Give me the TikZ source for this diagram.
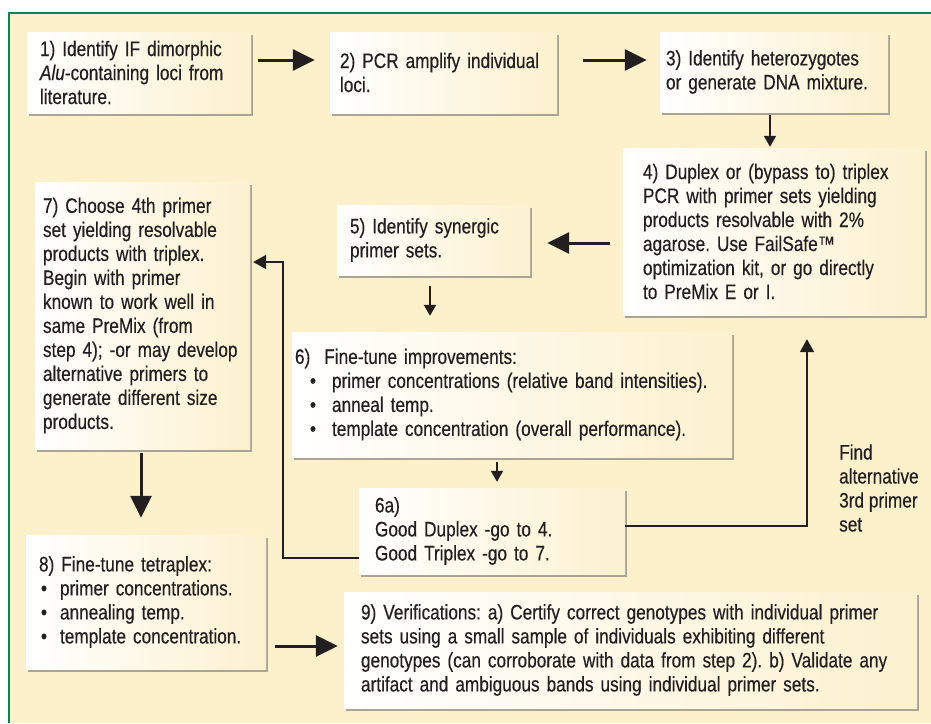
\documentclass[tikz,border=0pt]{standalone}
\usepackage{fontspec}
\setmainfont{Liberation Sans}[FakeStretch=0.82,FakeBold=0.4]
\usepackage{tikz}
\usepackage{xcolor}
\usetikzlibrary{arrows.meta,shadows}
\definecolor{bgcream}{HTML}{FCF1CB}
\definecolor{boxcream}{HTML}{FCF1CF}
\definecolor{framegreen}{HTML}{00875A}
\definecolor{ink}{HTML}{231F20}
\newcommand{\boxfont}{\fontsize{21}{24}\selectfont\frenchspacing}
\newcommand{\bul}[1]{\makebox[#1][l]{\textbullet}}

\begin{document}
\begin{tikzpicture}[x=1pt,y=-1pt,
  stepbox/.style={left color=white,right color=boxcream,
    drop shadow={shadow xshift=2pt,shadow yshift=-2.5pt,fill=black!60,opacity=.55},
    align=left,inner xsep=15pt,inner ysep=0pt,font=\boxfont,text=ink},
  bigarrow/.style={draw=ink,line width=3pt,-{Triangle[length=22pt,width=21pt]}},
  smallarrow/.style={draw=ink,line width=2pt,-{Triangle[length=11pt,width=12pt]}},
  linkarrow/.style={draw=ink,line width=2pt,-{Triangle[length=13pt,width=14pt]}}]
\useasboundingbox (0,0) rectangle (931,723);
\fill[white] (0,0) rectangle (931,723);
\fill[bgcream] (9,13) rectangle (931,723);
\draw[framegreen,line width=2.5pt] (931,13) -- (9,13) -- (9,723);

\node[stepbox,inner xsep=13pt,text width=198pt,minimum height=81pt] (b1) at (139,72.5)
  {1) Identify IF dimorphic\\\textit{Alu}-containing loci from\\literature.};
\node[stepbox,inner xsep=10pt,text width=207pt,minimum height=81pt] (b2) at (443.5,72.5)
  {2) PCR amplify individual\\loci.};
\node[stepbox,inner xsep=6pt,text width=216pt,minimum height=80pt] (b3) at (774,72)
  {3) Identify heterozygotes\\or generate DNA mixture.};
\node[stepbox,inner xsep=20pt,text width=262pt,minimum height=167pt] (b4) at (774,231.5)
  {4) Duplex or (bypass to) triplex\\PCR with primer sets yielding\\products resolvable with 2\%\\agarose. Use FailSafe™\\optimization kit, or go directly\\to PreMix E or I.};
\node[stepbox,inner xsep=13pt,text width=167pt,minimum height=70pt] (b5) at (433.5,240)
  {5) Identify synergic\\primer sets.};
\node[stepbox,inner xsep=8pt,text width=199pt,minimum height=267pt] (b7) at (142.5,315.5)
  {7) Choose 4th primer\\set yielding resolvable\\products with triplex.\\Begin with primer\\known to work well in\\same PreMix (from\\step 4); -or may develop\\alternative primers to\\generate different size\\products.};
\node[stepbox,inner xsep=3pt,text width=434pt,minimum height=125pt] (b6) at (512,394.5)
  {6)\ \ Fine-tune improvements:\\
   \hspace*{15pt}\bul{22pt}primer concentrations (relative band intensities).\\
   \hspace*{15pt}\bul{22pt}anneal temp.\\
   \hspace*{15pt}\bul{22pt}template concentration (overall performance).};
\node[stepbox,inner xsep=16pt,text width=234pt,minimum height=86pt] (b6a) at (492,531)
  {6a)\\Good Duplex -go to 4.\\Good Triplex -go to 7.};
\node[stepbox,inner xsep=13pt,text width=214pt,minimum height=134pt] (b8) at (146,602)
  {8) Fine-tune tetraplex:\\
   \hspace*{2pt}\bul{19pt}primer concentrations.\\
   \hspace*{2pt}\bul{19pt}annealing temp.\\
   \hspace*{2pt}\bul{19pt}template concentration.};
\node[stepbox,inner xsep=17pt,text width=539pt,minimum height=116pt] (b9) at (630.5,650)
  {9) Verifications: a) Certify correct genotypes with individual primer\\sets using a small sample of individuals exhibiting different\\genotypes (can corroborate with data from step 2). b) Validate any\\artifact and ambiguous bands using individual primer sets.};
\node[anchor=west,align=left,inner sep=0pt,font=\boxfont,text=ink] (findlbl) at (839,488)
  {Find\\alternative\\3rd primer\\set};

\draw[bigarrow,shorten <=7pt,shorten >=15pt] ([yshift=12.5pt]b1.east) -- ([yshift=12.5pt]b2.west);
\draw[bigarrow,shorten <=26pt,shorten >=13pt] ([yshift=12.5pt]b2.east) -- ([yshift=12pt]b3.west);
\draw[smallarrow,shorten <=3pt,shorten >=1pt] ([xshift=-4pt]b3.south) -- ([xshift=-4pt]b3.south |- b4.north);
\draw[bigarrow,shorten <=13pt,shorten >=17pt] ([yshift=-11.5pt]b4.west) -- ([yshift=-11.5pt]b4.west -| b5.east);
\draw[smallarrow,shorten <=11pt,shorten >=16pt] ([xshift=-3.5pt]b5.south) -- ([xshift=-3.5pt]b5.south |- b6.north);
\draw[smallarrow,shorten <=5pt,shorten >=6pt] ([xshift=5pt]b6a.north |- b6.south) -- ([xshift=5pt]b6a.north);
\draw[linkarrow,shorten >=3pt] ([yshift=-27pt]b6a.west) -| ([xshift=33pt,yshift=53.5pt]b7.east) -- ([yshift=53.5pt]b7.east);
\draw[linkarrow,shorten >=24pt] ([yshift=5pt]b6a.east) -| ([xshift=33pt]b4.south);
\draw[bigarrow,shorten <=4pt,shorten >=17pt] ([xshift=-1.5pt]b7.south) -- ([xshift=-1.5pt]b7.south |- b8.north);
\draw[bigarrow,shorten <=9pt,shorten >=6pt] ([yshift=-44pt]b8.east) -- ([yshift=-44pt]b8.east -| b9.west);
\end{tikzpicture}
\end{document}
